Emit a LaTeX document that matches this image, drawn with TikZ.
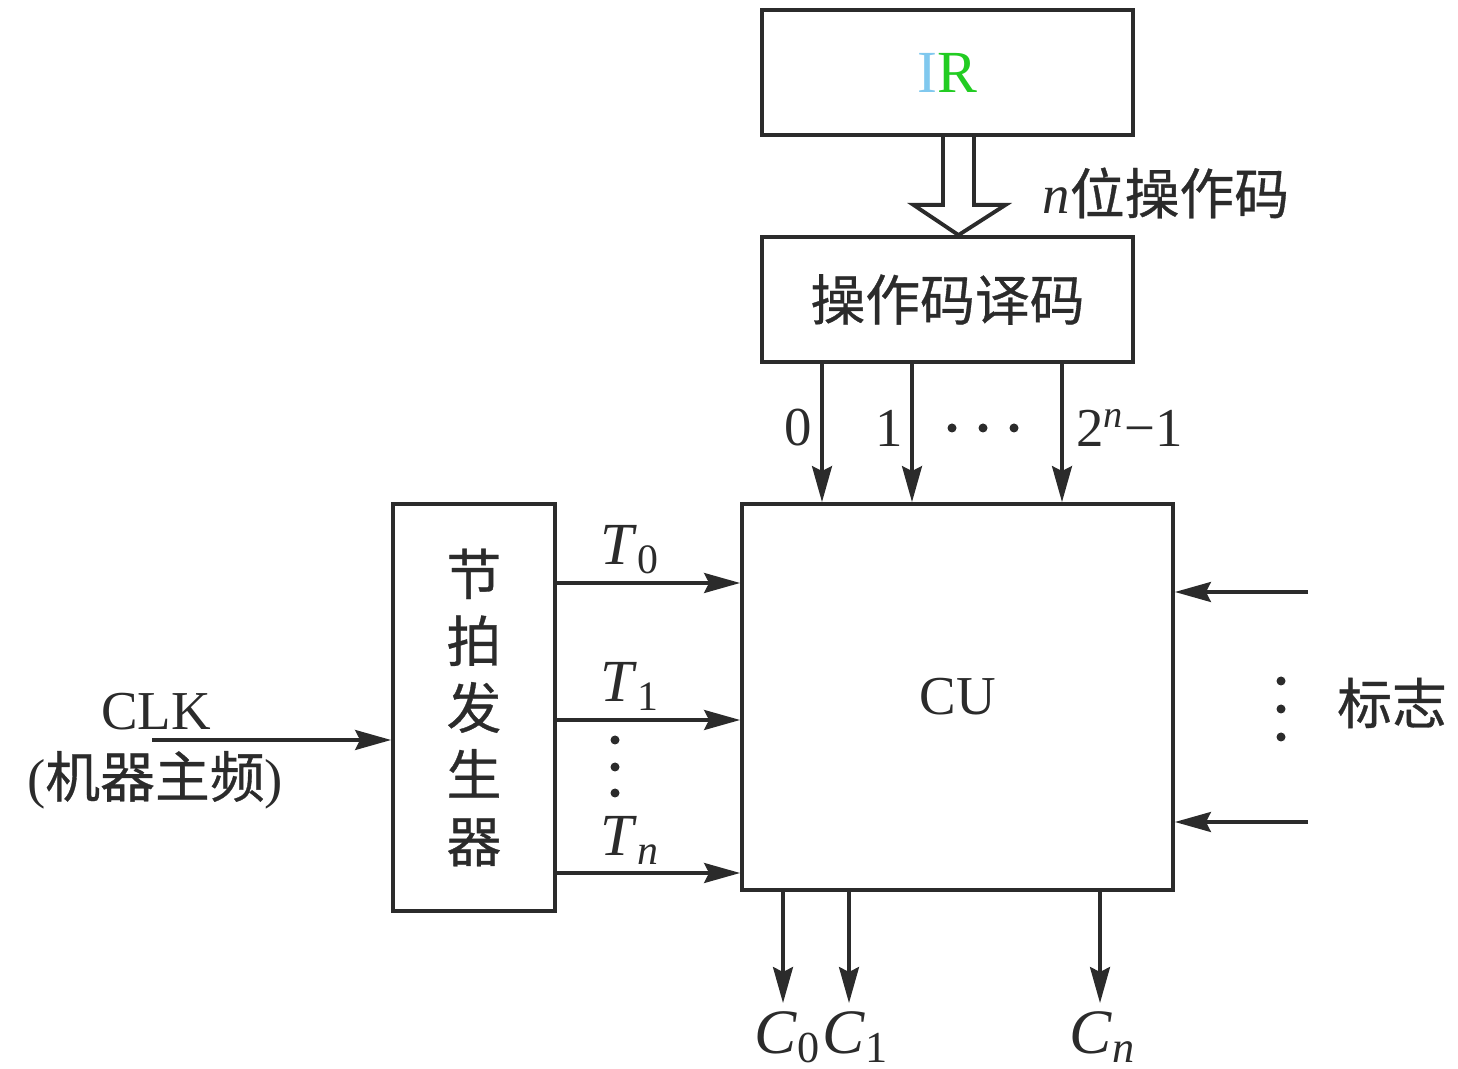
\documentclass[tikz,border=0pt]{standalone}
\usepackage{fontspec}
\setmainfont{Liberation Serif}
\newfontfamily\cjk{Noto Sans CJK SC}[UprightFeatures={FakeBold=0.6}]
\usetikzlibrary{arrows.meta, calc}

\definecolor{ink}{HTML}{2B2B2B}
\definecolor{irblue}{HTML}{80C8EE}
\definecolor{irgreen}{HTML}{22CC22}
\newcommand\sig[2]{\textit{#1}\textsubscript{#2}}

\begin{document}
\begin{tikzpicture}[font=\fontsize{15.6}{18}\selectfont, text=ink,
	box/.style={draw=ink, line width=1.1pt, inner sep=0pt},
	arr/.style={draw=ink, line width=0.9pt, -{Stealth[length=3.6mm, width=2mm, inset=0.5mm]}},
	zh/.style={font=\cjk\fontsize{15.6}{19}\selectfont},
	dotmark/.style={circle, fill=ink, inner sep=0pt, minimum size=0.9mm}]
	\useasboundingbox (0, 0) rectangle (14.58, -10.69);
	
	\node[box, minimum width=3.71cm, minimum height=1.25cm, font=\fontsize{17}{20}\selectfont] (ir) at (9.475, -0.725) {\textcolor{irblue}{I}\textcolor{irgreen}{R}};
	\node[box, zh, minimum width=3.71cm, minimum height=1.25cm] (dec) at (9.475, -2.995) {操作码译码};
	\node[box, minimum width=4.31cm, minimum height=3.86cm] (cu) at (9.575, -6.97) {CU};
	\node[box, zh, align=center, minimum width=1.62cm, minimum height=4.07cm] (gen) at (4.74, -7.075) {节\\拍\\发\\生\\器};
	
	% wide arrow IR -> decoder
	\coordinate (wa) at ($(ir.south)+(0.11, 0)$);
	\draw[ink, line width=1.1pt, line join=miter] ($(wa)+(-0.155, 0)$) -- ++(0, -0.68) -- ($(wa)+(-0.45, -0.68)$)
		-- (wa |- dec.north) -- ($(wa)+(0.47, -0.68)$) -- ($(wa)+(0.155, -0.68)$) -- ($(wa)+(0.155, 0)$);
	\node[anchor=west, zh] (opn) at (10.3, -1.93) {{\rmfamily\itshape n}位操作码};
	
	% decoder outputs
	\foreach \x in {8.22, 9.12, 10.62}
		\draw[arr] (\x, 0 |- dec.south) -- (\x, 0 |- cu.north);
	\node[anchor=east, inner sep=1pt] (l0) at (8.16, -4.28) {0};
	\node[anchor=east, inner sep=1pt] (l1) at (9.07, -4.28) {1};
	\foreach \x in {9.52, 9.83, 10.14}
		\node[dotmark] at (\x, -4.28) {};
	\node[anchor=west, inner sep=1pt] (ln) at (10.72, -4.28) {2\textsuperscript{\textit{n}}−1};
	
	% clock input
	\coordinate (clk) at (1.52, -7.4);
	\draw[arr] (clk) -- (clk -| gen.west);
	\node (clkt) at (1.56, -7.12) {CLK};
	\node[inner sep=0pt] (clkz) at (1.55, -7.8) {({\cjk 机器主频})};
	
	% timing signals
	\draw[arr] (gen.east |- 0, -5.83) -- (cu.west |- 0, -5.83);
	\draw[arr] (gen.east |- 0, -7.2) -- (cu.west |- 0, -7.2);
	\draw[arr] (gen.east |- 0, -8.73) -- (cu.west |- 0, -8.73);
	\node (t0) at (6.3, -5.5) {\fontsize{17}{20}\selectfont\sig{T}{0}};
	\node (t1) at (6.3, -6.86) {\fontsize{17}{20}\selectfont\sig{T}{1}};
	\node (tn) at (6.3, -8.4) {\fontsize{17}{20}\selectfont\sig{T}{\textit{n}}};
	\foreach \y in {-7.4, -7.67, -7.93}
		\node[dotmark] at (6.15, \y) {};
	
	% flags
	\coordinate (f1) at (13.08, -5.92);
	\coordinate (f2) at (13.08, -8.22);
	\draw[arr] (f1) -- (f1 -| cu.east);
	\draw[arr] (f2) -- (f2 -| cu.east);
	\foreach \y in {-6.81, -7.09, -7.37}
		\node[dotmark] at (12.81, \y) {};
	\node[zh] (flag) at (13.92, -7.03) {标志};
	
	% control outputs
	\foreach \x in {7.83, 8.49, 11.0}
		\draw[arr] (\x, 0 |- cu.south) -- (\x, -10.03);
	\node (c0) at (7.88, -10.37) {\fontsize{18}{20}\selectfont\sig{C}{0}};
	\node (c1) at (8.56, -10.37) {\fontsize{18}{20}\selectfont\sig{C}{1}};
	\node (cn) at (11.03, -10.37) {\fontsize{18}{20}\selectfont\sig{C}{\textit{n}}};
\end{tikzpicture}
\end{document}
